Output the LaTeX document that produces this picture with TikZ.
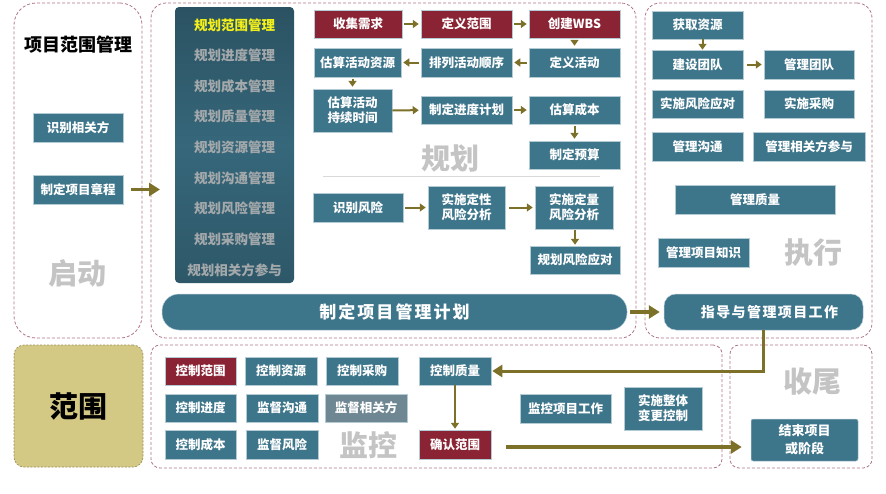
\documentclass[tikz,border=0pt]{standalone}
\usepackage{fontspec}
\setmainfont{Noto Sans CJK SC}
\usetikzlibrary{arrows.meta,calc}
\definecolor{tealc}{HTML}{3D758B}
\definecolor{redc}{HTML}{8A2333}
\definecolor{grayblue}{HTML}{6F8792}
\definecolor{edgec}{HTML}{B5CBD4}
\definecolor{regc}{HTML}{B07585}
\definecolor{olivec}{HTML}{7D7028}
\definecolor{tanc}{HTML}{D4C885}
\definecolor{tanedge}{HTML}{9A915A}
\definecolor{bigtxtc}{HTML}{C4C4C4}
\definecolor{colgray}{HTML}{A3A8AB}
\definecolor{colyellow}{HTML}{F4F01A}
\newcommand\mybox[7]{\node[#6, minimum width={(#4-#2)*1pt}, minimum height={(#5-#3)*1pt}] (#1) at ({(#2+#4)/2},{(#3+#5)/2}) {#7};}
\begin{document}
\begin{tikzpicture}[x=1pt,y=-1pt,
  region/.style={draw=regc, dash pattern=on 3pt off 2pt, line width=0.8pt, rounded corners=15pt, inner sep=0pt},
  tbox/.style={fill=tealc, draw=edgec, line width=0.5pt, text=white, font=\bfseries\fontsize{12.5}{15}\selectfont, align=center, inner sep=0pt},
  rbox/.style={tbox, fill=redc},
  gbox/.style={tbox, fill=grayblue},
  pill/.style={fill=tealc, draw=edgec, line width=0.5pt, text=white, inner sep=0pt},
  colbox/.style={rounded corners=4pt, top color=tealc!70!black, bottom color=tealc!75!black, middle color=tealc!88!black, inner sep=0pt},
  bigtxt/.style={text=bigtxtc, font=\bfseries\fontsize{29}{30}\selectfont},
  colitem/.style={text=colgray, font=\bfseries\fontsize{13.5}{15}\selectfont},
  arr/.style={draw=olivec, line width=2pt, -{Triangle[length=6pt,width=8pt]}, shorten <=2pt, shorten >=2pt},
  bigarr/.style={draw=olivec, line width=3.5pt, -{Triangle[length=11pt,width=13pt]}}
]
\useasboundingbox (0,0) rectangle (886,493);

% regions
\mybox{startR}{14}{3}{142}{338}{region, rounded corners=22pt}{}
\mybox{planR}{151}{3}{636}{338}{region}{}
\mybox{execR}{645}{3}{872}{338}{region}{}
\mybox{scopeR}{14}{345}{143}{467}{fill=tanc, draw=tanedge, dash pattern=on 2pt off 1.5pt, line width=0.7pt, rounded corners=10pt, inner sep=0pt}{}
\mybox{monR}{151}{345}{722}{468}{region, rounded corners=9pt}{}
\mybox{closeR}{730}{345}{872}{468}{region, rounded corners=9pt}{}

% initiating
\node[font=\bfseries\fontsize{18}{20}\selectfont] (title) at (78,45) {项目范围管理};
\mybox{stake}{33}{113}{123}{142}{tbox}{识别相关方}
\mybox{charter}{33}{175}{123}{204}{tbox}{制定项目章程}
\node[bigtxt] (qidong) at (77,274) {启动};
\node[font=\bfseries\fontsize{29}{30}\selectfont] (fanwei) at (78,406) {范围};

% planning column
\mybox{col}{175}{7}{294}{283}{colbox}{}
\node[colitem, text=colyellow] (c1) at (234.5,25) {规划范围管理};
\node[colitem] (c2) at (234.5,55.5) {规划进度管理};
\node[colitem] (c3) at (234.5,86) {规划成本管理};
\node[colitem] (c4) at (234.5,116.5) {规划质量管理};
\node[colitem] (c5) at (234.5,147) {规划资源管理};
\node[colitem] (c6) at (234.5,178) {规划沟通管理};
\node[colitem] (c7) at (234.5,208.5) {规划风险管理};
\node[colitem] (c8) at (234.5,239) {规划采购管理};
\node[colitem] (c9) at (234.5,270) {规划相关方参与};

% planning flow
\mybox{collect}{314}{10}{402}{38}{rbox}{收集需求}
\mybox{defscope}{421}{10}{512}{38}{rbox}{定义范围}
\mybox{wbs}{529}{10}{620}{38}{rbox}{创建WBS}
\mybox{estres}{314}{48}{401}{77}{tbox}{估算活动资源}
\mybox{seq}{421}{48}{512}{77}{tbox}{排列活动顺序}
\mybox{defact}{529}{48}{620}{77}{tbox}{定义活动}
\mybox{dur}{313}{89}{392}{132}{tbox}{估算活动\\持续时间}
\mybox{sched}{421}{96}{512}{124}{tbox}{制定进度计划}
\mybox{cost}{529}{96}{620}{124}{tbox}{估算成本}
\mybox{budget}{529}{141}{620}{169}{tbox}{制定预算}
\node[bigtxt] (guihua) at (450,158) {规划};
\draw[black!15, line width=0.7pt] (323,176) -- (600,176);
\mybox{idrisk}{313}{193}{403}{222}{tbox}{识别风险}
\mybox{qual}{428}{186}{505}{229}{tbox}{实施定性\\风险分析}
\mybox{quant}{535}{186}{613}{229}{tbox}{实施定量\\风险分析}
\mybox{resp}{530}{246}{620}{274}{tbox}{规划风险应对}
\mybox{plan}{162}{294}{627}{330}{pill, rounded corners=17pt, font=\bfseries\fontsize{17}{18}\selectfont\addfontfeature{LetterSpace=12}}{制定项目管理计划}

\draw[arr] (collect) -- (defscope);
\draw[arr] (defscope) -- (wbs);
\draw[arr] (wbs) -- (defact);
\draw[arr] (defact) -- (seq);
\draw[arr] (seq) -- (estres);
\draw[arr] (dur.north |- estres.south) -- (dur.north);
\draw[arr, shorten <=0pt] (dur) -- (sched);
\draw[arr] (sched) -- (cost);
\draw[arr] (cost) -- (budget);
\draw[arr] (idrisk) -- (qual);
\draw[arr, shorten <=4pt] (qual) -- (quant);
\draw[arr, shorten <=1pt, shorten >=1pt] (quant.south -| resp.north) -- (resp.north);

% executing
\mybox{acq}{652}{11}{743}{39}{tbox}{获取资源}
\mybox{build}{652}{50}{743}{79}{tbox}{建设团队}
\mybox{mteam}{764}{50}{854}{79}{tbox}{管理团队}
\mybox{irisk}{652}{90}{743}{118}{tbox}{实施风险应对}
\mybox{proc}{764}{90}{854}{118}{tbox}{实施采购}
\mybox{mcomm}{652}{132}{743}{161}{tbox}{管理沟通}
\mybox{mstake}{753}{132}{865}{161}{tbox}{管理相关方参与}
\mybox{mqual}{675}{185}{835}{214}{tbox}{管理质量}
\mybox{mknow}{658}{238}{749}{267}{tbox}{管理项目知识}
\node[bigtxt] (zhixing) at (813,253) {执行};
\mybox{direct}{664}{294}{863}{330}{pill, rounded corners=12pt, font=\bfseries\fontsize{14}{16}\selectfont\addfontfeature{LetterSpace=10}}{\hspace*{12pt}指导与管理项目工作}
\draw[arr, shorten <=0pt, shorten >=0pt] ([xshift=5pt]acq.south) -- ([xshift=5pt]build.north);
\draw[arr, shorten <=4pt] (build) -- (mteam);

% monitoring
\mybox{cscope}{165}{357}{236}{385}{rbox}{控制范围}
\mybox{cres}{245}{357}{317}{385}{tbox}{控制资源}
\mybox{cproc}{326}{357}{398}{385}{tbox}{控制采购}
\mybox{cqual}{419}{357}{491}{385}{tbox}{控制质量}
\mybox{csched}{165}{394}{236}{422}{tbox}{控制进度}
\mybox{mcomm2}{246}{394}{318}{422}{tbox}{监督沟通}
\mybox{mstake2}{325}{394}{407}{422}{gbox}{监督相关方}
\mybox{ccost}{165}{430}{236}{459}{tbox}{控制成本}
\mybox{mrisk}{246}{430}{318}{459}{tbox}{监督风险}
\node[bigtxt] (jiankong) at (368,445) {监控};
\mybox{vscope}{419}{430}{491}{459}{rbox}{确认范围}
\mybox{mwork}{520}{394}{611}{423}{tbox}{监控项目工作}
\mybox{icc}{624}{387}{702}{430}{tbox}{实施整体\\变更控制}

% closing
\node[bigtxt] (shouwei) at (812,382) {收尾};
\mybox{close}{751}{419}{858}{461}{tbox, rounded corners=2pt, font=\bfseries\fontsize{13}{18}\selectfont}{结束项目\\或阶段}

% main connectors
\coordinate (planin) at (160,189.5);
\draw[bigarr, shorten <=8pt] (charter.east) -- (planin);
\draw[bigarr, shorten <=3pt, shorten >=4pt] (plan.east) -- (direct.west);
\draw[draw=olivec, line width=3pt, -{Triangle[length=10pt,width=12pt]}, shorten >=1pt] (direct.south) |- (cqual.east);
\draw[arr, shorten <=0pt, shorten >=1pt] (cqual) -- (vscope);
\draw[bigarr, shorten <=15pt, shorten >=9pt] ([yshift=-2.5pt]vscope.east) -- ([yshift=-2.5pt]vscope.east -| close.west);
\end{tikzpicture}
\end{document}
